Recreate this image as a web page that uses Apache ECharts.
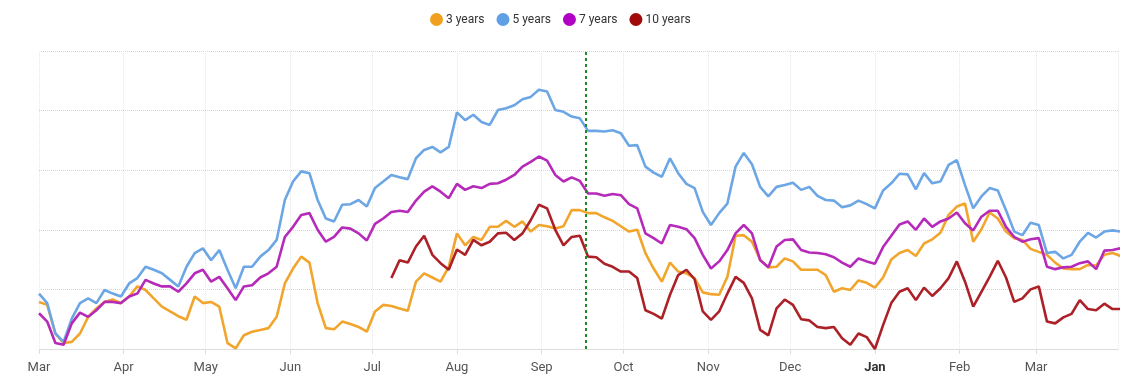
<!DOCTYPE html>
<html>
<head>
<meta charset="utf-8">
<script src="https://cdn.jsdelivr.net/npm/echarts@6/dist/echarts.min.js"></script>
<style>
html,body{margin:0;padding:0;background:#fff;}
#chart{width:1137px;height:390px;}
</style>
</head>
<body>
<div id="chart"></div>
<script>
// ---- data (sampled every 3 days starting 2022-03-01) ----
const startYear = 2022, startMonth = 2, startDay = 1; // 1 March 2022
const stepDays = 3;
const monthLabels = ['Jan','Feb','Mar','Apr','May','Jun','Jul','Aug','Sep','Oct','Nov','Dec'];
const seriesNames = ['3 years','5 years','7 years','10 years'];
const markerDate = [2022, 8, 17];

const threeY = [0.79,0.74,0.26,0.10,0.12,0.26,0.54,0.68,0.79,0.83,0.77,0.88,1.05,0.99,0.85,0.71,0.63,0.55,0.49,0.88,0.77,0.79,0.71,0.10,0.01,0.23,0.29,0.32,0.35,0.54,1.10,1.35,1.55,1.45,
0.77,0.35,0.33,0.46,0.42,0.37,0.29,0.63,0.74,0.72,0.68,0.64,1.13,1.27,1.20,1.13,1.38,1.94,1.74,1.88,1.83,2.05,2.05,2.15,2.05,2.14,1.97,2.08,2.06,2.02,2.06,2.33,2.33,
2.28,2.28,2.21,2.15,2.06,1.97,2.00,1.61,1.35,1.13,1.45,1.30,1.27,1.19,0.95,0.92,0.91,1.21,1.90,1.91,1.80,1.50,1.37,1.38,1.52,1.47,1.33,1.33,1.33,1.24,0.96,1.02,0.99,
1.15,1.11,1.03,1.20,1.50,1.61,1.66,1.56,1.77,1.84,1.95,2.25,2.39,2.44,1.80,2.01,2.29,2.19,1.97,1.86,1.83,1.68,1.63,1.58,1.45,1.35,1.34,1.34,1.41,1.40,1.58,1.61,1.56];

const fiveY = [0.93,0.77,0.26,0.12,0.51,0.77,0.85,0.77,0.99,0.93,0.88,1.10,1.19,1.38,1.33,1.27,1.16,1.05,1.38,1.61,1.69,1.49,1.66,1.33,1.02,1.38,1.38,1.55,1.66,1.83,2.50,2.81,2.98,2.95,
2.50,2.19,2.14,2.42,2.43,2.50,2.39,2.70,2.81,2.92,2.88,2.85,3.20,3.34,3.39,3.30,3.39,3.97,3.84,3.93,3.81,3.76,4.01,4.04,4.09,4.19,4.23,4.35,4.32,4.01,3.98,3.90,3.87,
3.66,3.66,3.65,3.67,3.62,3.41,3.42,3.06,2.96,2.89,3.20,2.95,2.77,2.70,2.30,2.08,2.28,2.44,3.06,3.29,3.10,2.72,2.56,2.72,2.75,2.79,2.67,2.72,2.57,2.50,2.49,2.38,2.41,
2.49,2.43,2.36,2.66,2.78,2.94,2.93,2.68,2.95,2.78,2.81,3.09,3.17,2.75,2.36,2.56,2.70,2.66,2.33,1.97,1.91,2.12,2.08,1.61,1.63,1.52,1.58,1.80,1.95,1.87,1.97,1.99,1.97];

const sevenY = [0.60,0.46,0.10,0.07,0.43,0.61,0.54,0.65,0.79,0.79,0.77,0.88,0.93,1.16,1.10,1.05,1.05,0.96,1.10,1.27,1.33,1.13,1.21,1.02,0.82,1.05,1.07,1.20,1.27,1.38,1.88,2.05,2.25,2.28,
2.00,1.80,1.88,2.04,2.02,1.94,1.82,2.10,2.19,2.30,2.32,2.30,2.49,2.64,2.73,2.64,2.53,2.77,2.67,2.73,2.70,2.77,2.78,2.84,2.92,3.06,3.14,3.23,3.16,2.92,2.81,2.88,2.82,
2.61,2.61,2.57,2.60,2.58,2.43,2.36,1.94,1.86,1.77,2.08,2.05,2.01,1.86,1.58,1.35,1.47,1.66,1.94,2.08,1.94,1.49,1.37,1.72,1.83,1.84,1.66,1.62,1.61,1.59,1.54,1.45,1.38,
1.52,1.47,1.43,1.71,1.90,2.09,2.14,2.00,2.19,2.05,2.14,2.19,2.29,2.11,1.99,2.22,2.32,2.32,2.05,1.88,1.80,1.84,1.86,1.38,1.34,1.37,1.38,1.44,1.47,1.34,1.65,1.66,1.69];

// 10-year series begins at sample index 43 (early July)
const tenYFirstIndex = 43;
const tenY = [1.19,1.49,1.45,1.72,1.90,1.58,1.44,1.33,1.67,1.58,1.83,1.74,1.80,1.94,1.95,1.83,1.94,2.16,2.42,2.36,2.00,1.74,1.88,1.90,
1.55,1.54,1.43,1.38,1.30,1.30,1.19,0.65,0.59,0.51,0.91,1.24,1.33,1.17,0.63,0.49,0.63,0.93,1.21,1.11,0.85,0.32,0.23,0.68,0.83,0.74,0.50,0.48,0.37,0.35,0.37,0.18,0.07,
0.26,0.20,0.00,0.40,0.77,0.96,1.02,0.82,1.03,0.89,1.02,1.19,1.47,1.13,0.71,0.96,1.21,1.48,1.20,0.79,0.85,1.00,1.05,0.46,0.43,0.53,0.59,0.82,0.67,0.65,0.76,0.67,0.67];

// ---- build ----
const dates = threeY.map((_, i) => new Date(startYear, startMonth, startDay + i * stepDays).getTime());
const pairs = (vals, offset) => vals.map((v, i) => [dates[i + offset], v]);

const lineColors = ['#f2a52c', '#6ca6e4', '#b62ab9', '#ac2127'];
const legendColors = ['#f0a01e', '#5f9fe6', '#b000c4', '#a00a0a'];

const chart = echarts.init(document.getElementById('chart'));
const mkSeries = (name, data, idx, extra) => Object.assign({
  name: name, type: 'line', data: data, showSymbol: false, symbol: 'none',
  lineStyle: { width: 2.6, color: lineColors[idx] },
  itemStyle: { color: lineColors[idx] },
  emphasis: { disabled: true }, animation: false
}, extra || {});

chart.setOption({
  animation: false,
  textStyle: { fontFamily: 'Roboto, "Liberation Sans", sans-serif' },
  legend: {
    top: 8, left: 425, icon: 'circle', itemWidth: 13, itemHeight: 13, itemGap: 12,
    textStyle: { fontSize: 12, color: '#333', padding: [0, 0, 0, -2] },
    data: seriesNames.map((n, i) => ({ name: n, itemStyle: { color: legendColors[i] } }))
  },
  grid: { left: 39, right: 19, top: 51, bottom: 41, containLabel: false },
  xAxis: {
    type: 'time',
    min: new Date(2022, 2, 1).getTime(),
    max: new Date(2023, 2, 31).getTime(),
    splitNumber: 13,
    minInterval: 28 * 86400000,
    maxInterval: 31 * 86400000,
    axisLine: { show: true, lineStyle: { color: '#dcdcdc', width: 1 } },
    axisTick: { show: true, length: 5, lineStyle: { color: '#dcdcdc' } },
    splitLine: { show: true, lineStyle: { color: '#e8e8e8', type: 'dotted', width: 1 } },
    axisLabel: {
      color: '#555', fontSize: 13, margin: 12, showMaxLabel: false,
      formatter: function (val) {
        const d = new Date(val);
        const m = d.getMonth();
        return m === 0 ? '{b|' + monthLabels[0] + '}' : monthLabels[m];
      },
      rich: { b: { fontWeight: 'bold', color: '#333', fontSize: 13 } }
    }
  },
  yAxis: {
    type: 'value', min: 0, max: 5, interval: 1,
    axisLine: { show: false }, axisTick: { show: false }, axisLabel: { show: false },
    splitLine: { show: true, lineStyle: { color: '#d6d6d6', type: 'dotted', width: 1 } }
  },
  series: [
    mkSeries(seriesNames[0], pairs(threeY, 0), 0),
    mkSeries(seriesNames[1], pairs(fiveY, 0), 1),
    mkSeries(seriesNames[2], pairs(sevenY, 0), 2),
    mkSeries(seriesNames[3], pairs(tenY, tenYFirstIndex), 3, {
      markLine: {
        silent: true, symbol: 'none', animation: false,
        label: { show: false },
        lineStyle: { color: '#1f8a24', type: [3, 3], width: 2 },
        data: [{ xAxis: new Date(markerDate[0], markerDate[1], markerDate[2]).getTime() }]
      }
    })
  ]
});
</script>
</body>
</html>
